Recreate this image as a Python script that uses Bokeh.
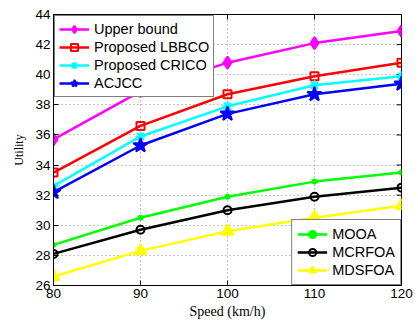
import math
from bokeh.plotting import figure
from bokeh.models import Range1d, FixedTicker, Legend, LegendItem
from bokeh.embed import file_html
from bokeh.resources import INLINE

speed = [80, 90, 100, 110, 120]
upper_bound = [35.7, 38.9, 40.8, 42.1, 42.9]
lbbco = [33.5, 36.6, 38.7, 39.9, 40.8]
crico = [32.6, 35.9, 37.9, 39.3, 39.9]
acjcc = [32.2, 35.3, 37.4, 38.7, 39.4]
mooa = [28.7, 30.5, 31.9, 32.9, 33.5]
mcrfoa = [28.1, 29.7, 31.0, 31.9, 32.5]
mdsfoa = [26.6, 28.3, 29.6, 30.5, 31.3]

x_ticks = [80, 90, 100, 110, 120]
y_ticks = [26, 28, 30, 32, 34, 36, 38, 40, 42, 44]
x_min, x_max = 80, 120
y_min, y_max = 26, 44

p = figure(width=418, height=324, output_backend="svg", toolbar_location=None,
           x_range=Range1d(x_min, x_max), y_range=Range1d(y_min, y_max),
           min_border_left=53, min_border_right=17, min_border_top=14, min_border_bottom=39)
p.background_fill_color = "white"
p.border_fill_color = "white"
p.outline_line_color = "black"
p.outline_line_width = 1

tick_font = "Liberation Sans"
for ax in p.xaxis + p.yaxis:
    ax.major_tick_in = 5
    ax.major_tick_out = 0
    ax.minor_tick_in = 0
    ax.minor_tick_out = 0
    ax.axis_line_color = "black"
    ax.major_tick_line_color = "black"
    ax.major_label_text_font = tick_font
    ax.major_label_text_font_size = "13.5px"
    ax.major_label_text_color = "black"
    ax.major_label_standoff = 3
    ax.axis_label_text_font = "Liberation Serif"
    ax.axis_label_text_font_style = "normal"
    ax.axis_label_text_color = "black"

p.xaxis.ticker = FixedTicker(ticks=x_ticks)
p.yaxis.ticker = FixedTicker(ticks=y_ticks)
p.xaxis.axis_label = "Speed (km/h)"
p.yaxis.axis_label = "Utility"
p.xaxis.axis_label_text_font_size = "14px"
p.yaxis.axis_label_text_font_size = "12px"
p.xaxis.axis_label_standoff = 3
p.yaxis.axis_label_standoff = 6

# mirrored inward ticks on top and right edges of the box
p.ray(x=x_ticks, y=[y_max] * len(x_ticks), length=5, length_units="screen",
      angle=-math.pi / 2, line_color="black", line_width=1)
p.ray(x=[x_max] * len(y_ticks), y=y_ticks, length=5, length_units="screen",
      angle=math.pi, line_color="black", line_width=1)

p.xgrid.ticker = FixedTicker(ticks=x_ticks)
p.ygrid.ticker = FixedTicker(ticks=y_ticks)
for g in (p.xgrid[0], p.ygrid[0]):
    g.grid_line_color = "#8a8a8a"
    g.grid_line_dash = "1 3"
    g.grid_line_width = 1

lw = 2.5
series = [
    ("Upper bound", upper_bound, "#ff00ff", "diamond", 12, "#ff00ff"),
    ("Proposed LBBCO", lbbco, "#ff0000", "square", 8, None),
    ("Proposed CRICO", crico, "#00ffff", "asterisk", 10, None),
    ("ACJCC", acjcc, "#0000ff", "star", 15, "#0000ff"),
    ("MOOA", mooa, "#00ff00", "circle", 4, "#00ff00"),
    ("MCRFOA", mcrfoa, "#000000", "circle", 8, None),
    ("MDSFOA", mdsfoa, "#ffff00", "triangle", 12, "#ffff00"),
]

items = []
for label, ys, color, marker, size, fill in series:
    lr = p.line(speed, ys, line_color=color, line_width=lw)
    sr = p.scatter(speed, ys, marker=marker, size=size, line_color=color,
                   fill_color=fill, line_width=2)
    items.append(LegendItem(label=label, renderers=[lr, sr]))

def make_legend(its, loc):
    lg = Legend(items=its, location=loc)
    lg.margin = 1
    lg.padding = 4
    lg.spacing = 0
    lg.glyph_width = 30
    lg.glyph_height = 18
    lg.label_height = 18
    lg.label_standoff = 5
    lg.label_text_font = tick_font
    lg.label_text_font_size = "14.5px"
    lg.label_text_color = "black"
    lg.border_line_color = "black"
    lg.border_line_width = 1
    lg.background_fill_color = "white"
    lg.background_fill_alpha = 1
    return lg

leg1 = make_legend(items[:4], "top_left")
leg2 = make_legend(items[4:], "bottom_right")
leg2.margin = 0
leg2.padding = 5
p.add_layout(leg1, "center")
p.add_layout(leg2, "center")

open("out.html", "w").write(file_html(p, INLINE))
